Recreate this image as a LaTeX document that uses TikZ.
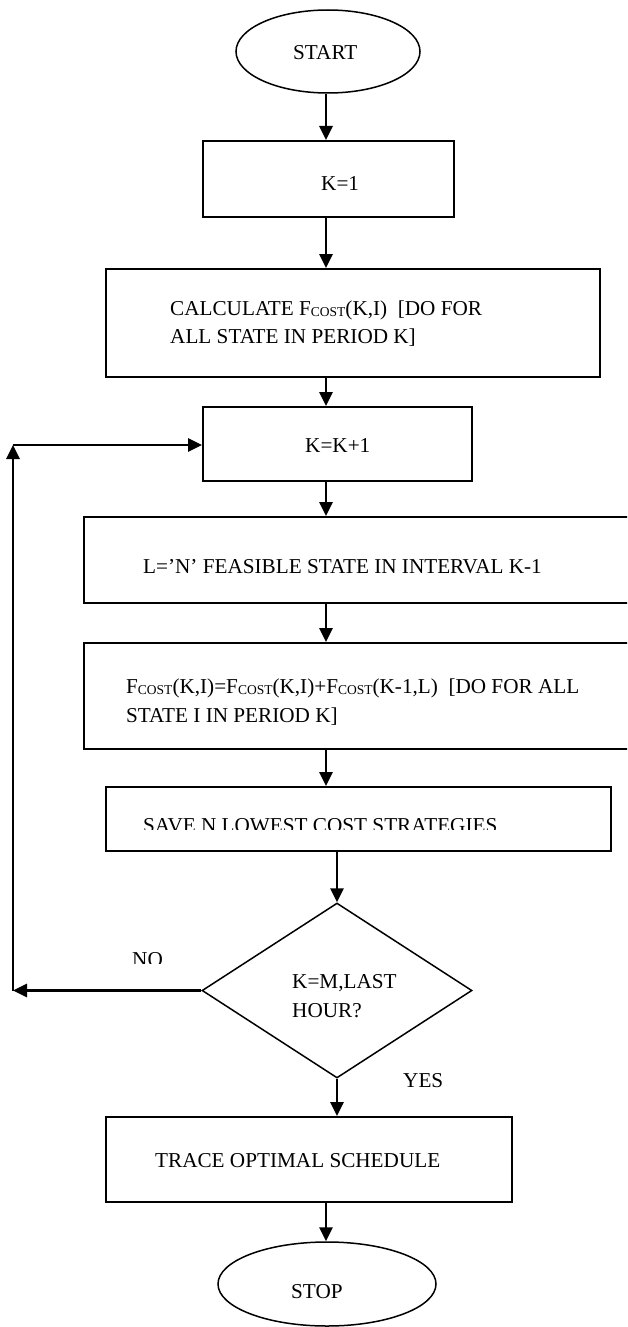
\documentclass[tikz,border=0pt]{standalone}
\usepackage{fontspec}
\setmainfont{Liberation Serif}
\usetikzlibrary{arrows.meta,shapes.geometric}
\newcommand\fcost{F\raisebox{-1.5pt}{\fontsize{13.5}{14}\selectfont COST}}
\begin{document}
\begin{tikzpicture}[x=1pt,y=-1pt,
  box/.style={draw, rectangle, line width=2pt, inner sep=0pt},
  term/.style={draw, ellipse, line width=1.5pt, inner sep=0pt},
  dec/.style={draw, diamond, line width=1.5pt, inner sep=0pt, aspect=1.54},
  arr/.style={line width=2.7pt, -{Triangle[width=13pt,length=14pt]}},
  txt/.style={font=\fontsize{21.2}{28}\selectfont, inner sep=0pt, anchor=base west}]
\useasboundingbox (0,0) rectangle (627,1327);
\fill[white] (0,0) rectangle (627,1327);
\clip (0,0) rectangle (627,1327);
% shapes
\node[term, minimum width=184pt, minimum height=83pt] (start) at (328,51.5) {};
\node[box, minimum width=251pt, minimum height=76pt] (k1) at (328.5,179) {};
\node[box, minimum width=494pt, minimum height=108pt] (calc) at (353,323) {};
\node[box, minimum width=269pt, minimum height=74pt] (kk) at (337.5,444) {};
\node[box, minimum width=576pt, minimum height=86pt] (lbox) at (372,560) {};
\node[box, minimum width=576pt, minimum height=106pt] (fbox) at (372,696) {};
\node[box, minimum width=505pt, minimum height=64pt] (save) at (358.5,819) {};
\node[dec, minimum width=270pt, minimum height=175pt] (dec) at (337,990.5) {};
\node[box, minimum width=406pt, minimum height=85pt] (trace) at (309,1159.5) {};
\node[term, minimum width=218pt, minimum height=84pt] (stop) at (327,1284) {};
% texts
\node[txt] (tstart) at (293,60) {START};
\node[txt] (tk1) at (321,190) {K=1};
\node[txt] (tc1) at (170,315) {CALCULATE \fcost(K,I)~~[DO FOR};
\node[txt] (tc2) at (170,343) {ALL STATE IN PERIOD K]};
\node[txt] (tkk) at (305,452) {K=K+1};
\node[txt] (tl) at (143,573) {L=’N’ FEASIBLE STATE IN INTERVAL K-1};
\node[txt] (tf1) at (126,693) {\fcost(K,I)=\fcost(K,I)+\fcost(K-1,L)~~[DO FOR ALL};
\node[txt] (tf2) at (126,722) {STATE I IN PERIOD K]};
\begin{scope}
\clip (0,0) rectangle (627,829);
\node[txt] (tsave) at (143,832) {SAVE N LOWEST COST STRATEGIES};
\end{scope}
\node[txt] (td1) at (292,988) {K=M,LAST};
\node[txt] (td2) at (292,1017) {HOUR?};
\begin{scope}
\clip (0,0) rectangle (627,963);
\node[txt] (tno) at (132,966) {NO};
\end{scope}
\node[txt] (tyes) at (403,1087) {YES};
\node[txt] (ttrace) at (155,1167) {TRACE OPTIMAL SCHEDULE};
\node[txt] (tstop) at (291,1298) {STOP};
% connectors
\coordinate (ax) at (326,0);
\coordinate (bx) at (336,0);
\coordinate (lb) at (13,990.5);
\coordinate (lt) at (13,445);
\draw[arr] (start.south -| ax) -- (k1.north -| ax);
\draw[arr] (k1.south -| ax) -- (calc.north -| ax);
\draw[arr] (calc.south -| ax) -- (kk.north -| ax);
\draw[arr] (kk.south -| ax) -- (lbox.north -| ax);
\draw[arr] (lbox.south -| ax) -- (fbox.north -| ax);
\draw[arr] (fbox.south -| ax) -- (save.north -| ax);
\draw[arr] (save.south -| dec.north) -- (dec.north);
\draw[arr] (dec.south) -- (trace.north -| dec.south);
\draw[arr] (trace.south -| ax) -- (stop.north -| ax);
\draw[arr] (dec.west) -- (lb);
\draw[arr] (lb) -- (lt);
\draw[arr] (lt) -- (lt -| kk.west);
\end{tikzpicture}
\end{document}
